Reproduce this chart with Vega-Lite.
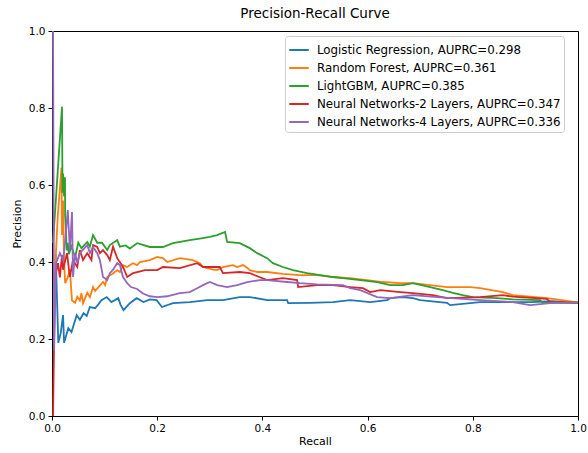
{
  "$schema": "https://vega.github.io/schema/vega-lite/v6.json",
  "autosize": {"type": "none"},
  "padding": {"left": 52, "top": 31, "right": 10, "bottom": 37},
  "width": 526,
  "height": 385,
  "background": "white",
  "title": {"text": "Precision-Recall Curve", "fontSize": 13.5, "fontWeight": "normal", "font": "DejaVu Sans", "color": "#000", "offset": 6},
  "config": {"view": {"stroke": "#000", "strokeWidth": 1}},
  "data": {"values": [
    {"model":"Logistic Regression, AUPRC=0.298","recall":0.007,"precision":0.42},
    {"model":"Logistic Regression, AUPRC=0.298","recall":0.012,"precision":0.19},
    {"model":"Logistic Regression, AUPRC=0.298","recall":0.0165,"precision":0.215},
    {"model":"Logistic Regression, AUPRC=0.298","recall":0.021,"precision":0.262},
    {"model":"Logistic Regression, AUPRC=0.298","recall":0.023,"precision":0.19},
    {"model":"Logistic Regression, AUPRC=0.298","recall":0.031,"precision":0.228},
    {"model":"Logistic Regression, AUPRC=0.298","recall":0.037,"precision":0.218},
    {"model":"Logistic Regression, AUPRC=0.298","recall":0.047,"precision":0.262},
    {"model":"Logistic Regression, AUPRC=0.298","recall":0.053,"precision":0.25},
    {"model":"Logistic Regression, AUPRC=0.298","recall":0.060,"precision":0.267},
    {"model":"Logistic Regression, AUPRC=0.298","recall":0.066,"precision":0.26},
    {"model":"Logistic Regression, AUPRC=0.298","recall":0.072,"precision":0.283},
    {"model":"Logistic Regression, AUPRC=0.298","recall":0.082,"precision":0.28},
    {"model":"Logistic Regression, AUPRC=0.298","recall":0.088,"precision":0.29},
    {"model":"Logistic Regression, AUPRC=0.298","recall":0.094,"precision":0.301},
    {"model":"Logistic Regression, AUPRC=0.298","recall":0.104,"precision":0.309},
    {"model":"Logistic Regression, AUPRC=0.298","recall":0.113,"precision":0.296},
    {"model":"Logistic Regression, AUPRC=0.298","recall":0.126,"precision":0.306},
    {"model":"Logistic Regression, AUPRC=0.298","recall":0.130,"precision":0.29},
    {"model":"Logistic Regression, AUPRC=0.298","recall":0.136,"precision":0.275},
    {"model":"Logistic Regression, AUPRC=0.298","recall":0.148,"precision":0.293},
    {"model":"Logistic Regression, AUPRC=0.298","recall":0.161,"precision":0.306},
    {"model":"Logistic Regression, AUPRC=0.298","recall":0.174,"precision":0.296},
    {"model":"Logistic Regression, AUPRC=0.298","recall":0.186,"precision":0.303},
    {"model":"Logistic Regression, AUPRC=0.298","recall":0.199,"precision":0.301},
    {"model":"Logistic Regression, AUPRC=0.298","recall":0.209,"precision":0.283},
    {"model":"Logistic Regression, AUPRC=0.298","recall":0.230,"precision":0.293},
    {"model":"Logistic Regression, AUPRC=0.298","recall":0.262,"precision":0.296},
    {"model":"Logistic Regression, AUPRC=0.298","recall":0.295,"precision":0.301},
    {"model":"Logistic Regression, AUPRC=0.298","recall":0.325,"precision":0.301},
    {"model":"Logistic Regression, AUPRC=0.298","recall":0.357,"precision":0.309},
    {"model":"Logistic Regression, AUPRC=0.298","recall":0.376,"precision":0.309},
    {"model":"Logistic Regression, AUPRC=0.298","recall":0.409,"precision":0.301},
    {"model":"Logistic Regression, AUPRC=0.298","recall":0.447,"precision":0.301},
    {"model":"Logistic Regression, AUPRC=0.298","recall":0.449,"precision":0.293},
    {"model":"Logistic Regression, AUPRC=0.298","recall":0.490,"precision":0.294},
    {"model":"Logistic Regression, AUPRC=0.298","recall":0.534,"precision":0.296},
    {"model":"Logistic Regression, AUPRC=0.298","recall":0.567,"precision":0.301},
    {"model":"Logistic Regression, AUPRC=0.298","recall":0.605,"precision":0.296},
    {"model":"Logistic Regression, AUPRC=0.298","recall":0.637,"precision":0.301},
    {"model":"Logistic Regression, AUPRC=0.298","recall":0.643,"precision":0.306},
    {"model":"Logistic Regression, AUPRC=0.298","recall":0.667,"precision":0.309},
    {"model":"Logistic Regression, AUPRC=0.298","recall":0.686,"precision":0.306},
    {"model":"Logistic Regression, AUPRC=0.298","recall":0.700,"precision":0.301},
    {"model":"Logistic Regression, AUPRC=0.298","recall":0.751,"precision":0.294},
    {"model":"Logistic Regression, AUPRC=0.298","recall":0.757,"precision":0.288},
    {"model":"Logistic Regression, AUPRC=0.298","recall":0.814,"precision":0.296},
    {"model":"Logistic Regression, AUPRC=0.298","recall":0.876,"precision":0.296},
    {"model":"Logistic Regression, AUPRC=0.298","recall":0.909,"precision":0.296},
    {"model":"Logistic Regression, AUPRC=0.298","recall":0.950,"precision":0.298},
    {"model":"Logistic Regression, AUPRC=0.298","recall":1.0,"precision":0.294},

    {"model":"Random Forest, AUPRC=0.361","recall":0.004,"precision":0.33},
    {"model":"Random Forest, AUPRC=0.361","recall":0.011,"precision":0.52},
    {"model":"Random Forest, AUPRC=0.361","recall":0.018,"precision":0.645},
    {"model":"Random Forest, AUPRC=0.361","recall":0.019,"precision":0.47},
    {"model":"Random Forest, AUPRC=0.361","recall":0.021,"precision":0.56},
    {"model":"Random Forest, AUPRC=0.361","recall":0.023,"precision":0.40},
    {"model":"Random Forest, AUPRC=0.361","recall":0.025,"precision":0.345},
    {"model":"Random Forest, AUPRC=0.361","recall":0.030,"precision":0.36},
    {"model":"Random Forest, AUPRC=0.361","recall":0.034,"precision":0.38},
    {"model":"Random Forest, AUPRC=0.361","recall":0.038,"precision":0.30},
    {"model":"Random Forest, AUPRC=0.361","recall":0.044,"precision":0.294},
    {"model":"Random Forest, AUPRC=0.361","recall":0.048,"precision":0.31},
    {"model":"Random Forest, AUPRC=0.361","recall":0.053,"precision":0.30},
    {"model":"Random Forest, AUPRC=0.361","recall":0.056,"precision":0.319},
    {"model":"Random Forest, AUPRC=0.361","recall":0.059,"precision":0.293},
    {"model":"Random Forest, AUPRC=0.361","recall":0.067,"precision":0.32},
    {"model":"Random Forest, AUPRC=0.361","recall":0.072,"precision":0.309},
    {"model":"Random Forest, AUPRC=0.361","recall":0.078,"precision":0.335},
    {"model":"Random Forest, AUPRC=0.361","recall":0.082,"precision":0.325},
    {"model":"Random Forest, AUPRC=0.361","recall":0.097,"precision":0.348},
    {"model":"Random Forest, AUPRC=0.361","recall":0.101,"precision":0.34},
    {"model":"Random Forest, AUPRC=0.361","recall":0.105,"precision":0.361},
    {"model":"Random Forest, AUPRC=0.361","recall":0.116,"precision":0.37},
    {"model":"Random Forest, AUPRC=0.361","recall":0.124,"precision":0.379},
    {"model":"Random Forest, AUPRC=0.361","recall":0.129,"precision":0.374},
    {"model":"Random Forest, AUPRC=0.361","recall":0.135,"precision":0.392},
    {"model":"Random Forest, AUPRC=0.361","recall":0.143,"precision":0.387},
    {"model":"Random Forest, AUPRC=0.361","recall":0.154,"precision":0.397},
    {"model":"Random Forest, AUPRC=0.361","recall":0.162,"precision":0.392},
    {"model":"Random Forest, AUPRC=0.361","recall":0.167,"precision":0.40},
    {"model":"Random Forest, AUPRC=0.361","recall":0.186,"precision":0.405},
    {"model":"Random Forest, AUPRC=0.361","recall":0.200,"precision":0.413},
    {"model":"Random Forest, AUPRC=0.361","recall":0.211,"precision":0.41},
    {"model":"Random Forest, AUPRC=0.361","recall":0.219,"precision":0.40},
    {"model":"Random Forest, AUPRC=0.361","recall":0.243,"precision":0.41},
    {"model":"Random Forest, AUPRC=0.361","recall":0.268,"precision":0.405},
    {"model":"Random Forest, AUPRC=0.361","recall":0.276,"precision":0.40},
    {"model":"Random Forest, AUPRC=0.361","recall":0.281,"precision":0.397},
    {"model":"Random Forest, AUPRC=0.361","recall":0.287,"precision":0.387},
    {"model":"Random Forest, AUPRC=0.361","recall":0.306,"precision":0.38},
    {"model":"Random Forest, AUPRC=0.361","recall":0.314,"precision":0.379},
    {"model":"Random Forest, AUPRC=0.361","recall":0.325,"precision":0.387},
    {"model":"Random Forest, AUPRC=0.361","recall":0.344,"precision":0.392},
    {"model":"Random Forest, AUPRC=0.361","recall":0.352,"precision":0.387},
    {"model":"Random Forest, AUPRC=0.361","recall":0.363,"precision":0.392},
    {"model":"Random Forest, AUPRC=0.361","recall":0.371,"precision":0.385},
    {"model":"Random Forest, AUPRC=0.361","recall":0.376,"precision":0.379},
    {"model":"Random Forest, AUPRC=0.361","recall":0.390,"precision":0.374},
    {"model":"Random Forest, AUPRC=0.361","recall":0.409,"precision":0.374},
    {"model":"Random Forest, AUPRC=0.361","recall":0.439,"precision":0.369},
    {"model":"Random Forest, AUPRC=0.361","recall":0.471,"precision":0.366},
    {"model":"Random Forest, AUPRC=0.361","recall":0.504,"precision":0.366},
    {"model":"Random Forest, AUPRC=0.361","recall":0.534,"precision":0.361},
    {"model":"Random Forest, AUPRC=0.361","recall":0.567,"precision":0.358},
    {"model":"Random Forest, AUPRC=0.361","recall":0.599,"precision":0.353},
    {"model":"Random Forest, AUPRC=0.361","recall":0.629,"precision":0.348},
    {"model":"Random Forest, AUPRC=0.361","recall":0.662,"precision":0.345},
    {"model":"Random Forest, AUPRC=0.361","recall":0.686,"precision":0.345},
    {"model":"Random Forest, AUPRC=0.361","recall":0.751,"precision":0.335},
    {"model":"Random Forest, AUPRC=0.361","recall":0.795,"precision":0.335},
    {"model":"Random Forest, AUPRC=0.361","recall":0.814,"precision":0.332},
    {"model":"Random Forest, AUPRC=0.361","recall":0.857,"precision":0.322},
    {"model":"Random Forest, AUPRC=0.361","recall":0.876,"precision":0.314},
    {"model":"Random Forest, AUPRC=0.361","recall":0.941,"precision":0.306},
    {"model":"Random Forest, AUPRC=0.361","recall":1.0,"precision":0.295},

    {"model":"LightGBM, AUPRC=0.385","recall":0.002,"precision":0.45},
    {"model":"LightGBM, AUPRC=0.385","recall":0.019,"precision":0.803},
    {"model":"LightGBM, AUPRC=0.385","recall":0.020,"precision":0.58},
    {"model":"LightGBM, AUPRC=0.385","recall":0.021,"precision":0.63},
    {"model":"LightGBM, AUPRC=0.385","recall":0.023,"precision":0.57},
    {"model":"LightGBM, AUPRC=0.385","recall":0.0247,"precision":0.62},
    {"model":"LightGBM, AUPRC=0.385","recall":0.025,"precision":0.52},
    {"model":"LightGBM, AUPRC=0.385","recall":0.026,"precision":0.50},
    {"model":"LightGBM, AUPRC=0.385","recall":0.028,"precision":0.43},
    {"model":"LightGBM, AUPRC=0.385","recall":0.030,"precision":0.45},
    {"model":"LightGBM, AUPRC=0.385","recall":0.032,"precision":0.42},
    {"model":"LightGBM, AUPRC=0.385","recall":0.037,"precision":0.44},
    {"model":"LightGBM, AUPRC=0.385","recall":0.044,"precision":0.413},
    {"model":"LightGBM, AUPRC=0.385","recall":0.050,"precision":0.45},
    {"model":"LightGBM, AUPRC=0.385","recall":0.056,"precision":0.436},
    {"model":"LightGBM, AUPRC=0.385","recall":0.067,"precision":0.452},
    {"model":"LightGBM, AUPRC=0.385","recall":0.072,"precision":0.44},
    {"model":"LightGBM, AUPRC=0.385","recall":0.078,"precision":0.47},
    {"model":"LightGBM, AUPRC=0.385","recall":0.086,"precision":0.45},
    {"model":"LightGBM, AUPRC=0.385","recall":0.095,"precision":0.45},
    {"model":"LightGBM, AUPRC=0.385","recall":0.105,"precision":0.431},
    {"model":"LightGBM, AUPRC=0.385","recall":0.110,"precision":0.444},
    {"model":"LightGBM, AUPRC=0.385","recall":0.124,"precision":0.457},
    {"model":"LightGBM, AUPRC=0.385","recall":0.129,"precision":0.44},
    {"model":"LightGBM, AUPRC=0.385","recall":0.140,"precision":0.443},
    {"model":"LightGBM, AUPRC=0.385","recall":0.148,"precision":0.435},
    {"model":"LightGBM, AUPRC=0.385","recall":0.162,"precision":0.449},
    {"model":"LightGBM, AUPRC=0.385","recall":0.186,"precision":0.439},
    {"model":"LightGBM, AUPRC=0.385","recall":0.211,"precision":0.439},
    {"model":"LightGBM, AUPRC=0.385","recall":0.230,"precision":0.449},
    {"model":"LightGBM, AUPRC=0.385","recall":0.262,"precision":0.457},
    {"model":"LightGBM, AUPRC=0.385","recall":0.287,"precision":0.462},
    {"model":"LightGBM, AUPRC=0.385","recall":0.300,"precision":0.465},
    {"model":"LightGBM, AUPRC=0.385","recall":0.314,"precision":0.47},
    {"model":"LightGBM, AUPRC=0.385","recall":0.329,"precision":0.478},
    {"model":"LightGBM, AUPRC=0.385","recall":0.333,"precision":0.452},
    {"model":"LightGBM, AUPRC=0.385","recall":0.357,"precision":0.449},
    {"model":"LightGBM, AUPRC=0.385","recall":0.376,"precision":0.436},
    {"model":"LightGBM, AUPRC=0.385","recall":0.390,"precision":0.423},
    {"model":"LightGBM, AUPRC=0.385","recall":0.409,"precision":0.41},
    {"model":"LightGBM, AUPRC=0.385","recall":0.420,"precision":0.397},
    {"model":"LightGBM, AUPRC=0.385","recall":0.439,"precision":0.387},
    {"model":"LightGBM, AUPRC=0.385","recall":0.458,"precision":0.379},
    {"model":"LightGBM, AUPRC=0.385","recall":0.485,"precision":0.371},
    {"model":"LightGBM, AUPRC=0.385","recall":0.510,"precision":0.366},
    {"model":"LightGBM, AUPRC=0.385","recall":0.534,"precision":0.361},
    {"model":"LightGBM, AUPRC=0.385","recall":0.553,"precision":0.358},
    {"model":"LightGBM, AUPRC=0.385","recall":0.586,"precision":0.353},
    {"model":"LightGBM, AUPRC=0.385","recall":0.618,"precision":0.348},
    {"model":"LightGBM, AUPRC=0.385","recall":0.643,"precision":0.34},
    {"model":"LightGBM, AUPRC=0.385","recall":0.667,"precision":0.34},
    {"model":"LightGBM, AUPRC=0.385","recall":0.686,"precision":0.345},
    {"model":"LightGBM, AUPRC=0.385","recall":0.719,"precision":0.335},
    {"model":"LightGBM, AUPRC=0.385","recall":0.743,"precision":0.327},
    {"model":"LightGBM, AUPRC=0.385","recall":0.762,"precision":0.32},
    {"model":"LightGBM, AUPRC=0.385","recall":0.781,"precision":0.314},
    {"model":"LightGBM, AUPRC=0.385","recall":0.800,"precision":0.309},
    {"model":"LightGBM, AUPRC=0.385","recall":0.846,"precision":0.306},
    {"model":"LightGBM, AUPRC=0.385","recall":0.876,"precision":0.303},
    {"model":"LightGBM, AUPRC=0.385","recall":0.928,"precision":0.301},
    {"model":"LightGBM, AUPRC=0.385","recall":0.933,"precision":0.294},
    {"model":"LightGBM, AUPRC=0.385","recall":1.0,"precision":0.295},

    {"model":"Neural Networks-2 Layers, AUPRC=0.347","recall":0.002,"precision":0.0},
    {"model":"Neural Networks-2 Layers, AUPRC=0.347","recall":0.004,"precision":0.20},
    {"model":"Neural Networks-2 Layers, AUPRC=0.347","recall":0.006,"precision":0.36},
    {"model":"Neural Networks-2 Layers, AUPRC=0.347","recall":0.0114,"precision":0.397},
    {"model":"Neural Networks-2 Layers, AUPRC=0.347","recall":0.015,"precision":0.36},
    {"model":"Neural Networks-2 Layers, AUPRC=0.347","recall":0.019,"precision":0.418},
    {"model":"Neural Networks-2 Layers, AUPRC=0.347","recall":0.021,"precision":0.38},
    {"model":"Neural Networks-2 Layers, AUPRC=0.347","recall":0.0285,"precision":0.423},
    {"model":"Neural Networks-2 Layers, AUPRC=0.347","recall":0.034,"precision":0.361},
    {"model":"Neural Networks-2 Layers, AUPRC=0.347","recall":0.040,"precision":0.405},
    {"model":"Neural Networks-2 Layers, AUPRC=0.347","recall":0.048,"precision":0.387},
    {"model":"Neural Networks-2 Layers, AUPRC=0.347","recall":0.053,"precision":0.431},
    {"model":"Neural Networks-2 Layers, AUPRC=0.347","recall":0.059,"precision":0.405},
    {"model":"Neural Networks-2 Layers, AUPRC=0.347","recall":0.067,"precision":0.423},
    {"model":"Neural Networks-2 Layers, AUPRC=0.347","recall":0.075,"precision":0.405},
    {"model":"Neural Networks-2 Layers, AUPRC=0.347","recall":0.078,"precision":0.444},
    {"model":"Neural Networks-2 Layers, AUPRC=0.347","recall":0.086,"precision":0.439},
    {"model":"Neural Networks-2 Layers, AUPRC=0.347","recall":0.091,"precision":0.423},
    {"model":"Neural Networks-2 Layers, AUPRC=0.347","recall":0.097,"precision":0.431},
    {"model":"Neural Networks-2 Layers, AUPRC=0.347","recall":0.105,"precision":0.418},
    {"model":"Neural Networks-2 Layers, AUPRC=0.347","recall":0.110,"precision":0.405},
    {"model":"Neural Networks-2 Layers, AUPRC=0.347","recall":0.116,"precision":0.44},
    {"model":"Neural Networks-2 Layers, AUPRC=0.347","recall":0.124,"precision":0.41},
    {"model":"Neural Networks-2 Layers, AUPRC=0.347","recall":0.135,"precision":0.387},
    {"model":"Neural Networks-2 Layers, AUPRC=0.347","recall":0.143,"precision":0.361},
    {"model":"Neural Networks-2 Layers, AUPRC=0.347","recall":0.154,"precision":0.371},
    {"model":"Neural Networks-2 Layers, AUPRC=0.347","recall":0.162,"precision":0.374},
    {"model":"Neural Networks-2 Layers, AUPRC=0.347","recall":0.177,"precision":0.379},
    {"model":"Neural Networks-2 Layers, AUPRC=0.347","recall":0.200,"precision":0.379},
    {"model":"Neural Networks-2 Layers, AUPRC=0.347","recall":0.211,"precision":0.387},
    {"model":"Neural Networks-2 Layers, AUPRC=0.347","recall":0.243,"precision":0.384},
    {"model":"Neural Networks-2 Layers, AUPRC=0.347","recall":0.276,"precision":0.397},
    {"model":"Neural Networks-2 Layers, AUPRC=0.347","recall":0.287,"precision":0.387},
    {"model":"Neural Networks-2 Layers, AUPRC=0.347","recall":0.319,"precision":0.387},
    {"model":"Neural Networks-2 Layers, AUPRC=0.347","recall":0.325,"precision":0.371},
    {"model":"Neural Networks-2 Layers, AUPRC=0.347","recall":0.357,"precision":0.374},
    {"model":"Neural Networks-2 Layers, AUPRC=0.347","recall":0.376,"precision":0.371},
    {"model":"Neural Networks-2 Layers, AUPRC=0.347","recall":0.409,"precision":0.353},
    {"model":"Neural Networks-2 Layers, AUPRC=0.347","recall":0.439,"precision":0.358},
    {"model":"Neural Networks-2 Layers, AUPRC=0.347","recall":0.466,"precision":0.353},
    {"model":"Neural Networks-2 Layers, AUPRC=0.347","recall":0.468,"precision":0.335},
    {"model":"Neural Networks-2 Layers, AUPRC=0.347","recall":0.504,"precision":0.34},
    {"model":"Neural Networks-2 Layers, AUPRC=0.347","recall":0.534,"precision":0.34},
    {"model":"Neural Networks-2 Layers, AUPRC=0.347","recall":0.567,"precision":0.335},
    {"model":"Neural Networks-2 Layers, AUPRC=0.347","recall":0.591,"precision":0.332},
    {"model":"Neural Networks-2 Layers, AUPRC=0.347","recall":0.605,"precision":0.322},
    {"model":"Neural Networks-2 Layers, AUPRC=0.347","recall":0.624,"precision":0.327},
    {"model":"Neural Networks-2 Layers, AUPRC=0.347","recall":0.662,"precision":0.322},
    {"model":"Neural Networks-2 Layers, AUPRC=0.347","recall":0.686,"precision":0.319},
    {"model":"Neural Networks-2 Layers, AUPRC=0.347","recall":0.724,"precision":0.314},
    {"model":"Neural Networks-2 Layers, AUPRC=0.347","recall":0.751,"precision":0.306},
    {"model":"Neural Networks-2 Layers, AUPRC=0.347","recall":0.814,"precision":0.309},
    {"model":"Neural Networks-2 Layers, AUPRC=0.347","recall":0.857,"precision":0.314},
    {"model":"Neural Networks-2 Layers, AUPRC=0.347","recall":0.876,"precision":0.31},
    {"model":"Neural Networks-2 Layers, AUPRC=0.347","recall":0.941,"precision":0.304},
    {"model":"Neural Networks-2 Layers, AUPRC=0.347","recall":0.947,"precision":0.296},
    {"model":"Neural Networks-2 Layers, AUPRC=0.347","recall":1.0,"precision":0.294},

    {"model":"Neural Networks-4 Layers, AUPRC=0.336","recall":0.0,"precision":1.0},
    {"model":"Neural Networks-4 Layers, AUPRC=0.336","recall":0.002,"precision":1.0},
    {"model":"Neural Networks-4 Layers, AUPRC=0.336","recall":0.004,"precision":0.17},
    {"model":"Neural Networks-4 Layers, AUPRC=0.336","recall":0.0076,"precision":0.397},
    {"model":"Neural Networks-4 Layers, AUPRC=0.336","recall":0.015,"precision":0.423},
    {"model":"Neural Networks-4 Layers, AUPRC=0.336","recall":0.021,"precision":0.405},
    {"model":"Neural Networks-4 Layers, AUPRC=0.336","recall":0.0247,"precision":0.449},
    {"model":"Neural Networks-4 Layers, AUPRC=0.336","recall":0.030,"precision":0.535},
    {"model":"Neural Networks-4 Layers, AUPRC=0.336","recall":0.034,"precision":0.43},
    {"model":"Neural Networks-4 Layers, AUPRC=0.336","recall":0.038,"precision":0.53},
    {"model":"Neural Networks-4 Layers, AUPRC=0.336","recall":0.040,"precision":0.361},
    {"model":"Neural Networks-4 Layers, AUPRC=0.336","recall":0.044,"precision":0.423},
    {"model":"Neural Networks-4 Layers, AUPRC=0.336","recall":0.048,"precision":0.397},
    {"model":"Neural Networks-4 Layers, AUPRC=0.336","recall":0.053,"precision":0.423},
    {"model":"Neural Networks-4 Layers, AUPRC=0.336","recall":0.067,"precision":0.444},
    {"model":"Neural Networks-4 Layers, AUPRC=0.336","recall":0.072,"precision":0.423},
    {"model":"Neural Networks-4 Layers, AUPRC=0.336","recall":0.078,"precision":0.439},
    {"model":"Neural Networks-4 Layers, AUPRC=0.336","recall":0.086,"precision":0.423},
    {"model":"Neural Networks-4 Layers, AUPRC=0.336","recall":0.091,"precision":0.405},
    {"model":"Neural Networks-4 Layers, AUPRC=0.336","recall":0.097,"precision":0.361},
    {"model":"Neural Networks-4 Layers, AUPRC=0.336","recall":0.105,"precision":0.353},
    {"model":"Neural Networks-4 Layers, AUPRC=0.336","recall":0.110,"precision":0.371},
    {"model":"Neural Networks-4 Layers, AUPRC=0.336","recall":0.116,"precision":0.38},
    {"model":"Neural Networks-4 Layers, AUPRC=0.336","recall":0.124,"precision":0.397},
    {"model":"Neural Networks-4 Layers, AUPRC=0.336","recall":0.129,"precision":0.392},
    {"model":"Neural Networks-4 Layers, AUPRC=0.336","recall":0.135,"precision":0.361},
    {"model":"Neural Networks-4 Layers, AUPRC=0.336","recall":0.143,"precision":0.345},
    {"model":"Neural Networks-4 Layers, AUPRC=0.336","recall":0.150,"precision":0.335},
    {"model":"Neural Networks-4 Layers, AUPRC=0.336","recall":0.162,"precision":0.33},
    {"model":"Neural Networks-4 Layers, AUPRC=0.336","recall":0.173,"precision":0.318},
    {"model":"Neural Networks-4 Layers, AUPRC=0.336","recall":0.186,"precision":0.311},
    {"model":"Neural Networks-4 Layers, AUPRC=0.336","recall":0.200,"precision":0.309},
    {"model":"Neural Networks-4 Layers, AUPRC=0.336","recall":0.219,"precision":0.311},
    {"model":"Neural Networks-4 Layers, AUPRC=0.336","recall":0.243,"precision":0.319},
    {"model":"Neural Networks-4 Layers, AUPRC=0.336","recall":0.262,"precision":0.322},
    {"model":"Neural Networks-4 Layers, AUPRC=0.336","recall":0.276,"precision":0.332},
    {"model":"Neural Networks-4 Layers, AUPRC=0.336","recall":0.287,"precision":0.34},
    {"model":"Neural Networks-4 Layers, AUPRC=0.336","recall":0.300,"precision":0.348},
    {"model":"Neural Networks-4 Layers, AUPRC=0.336","recall":0.314,"precision":0.34},
    {"model":"Neural Networks-4 Layers, AUPRC=0.336","recall":0.333,"precision":0.335},
    {"model":"Neural Networks-4 Layers, AUPRC=0.336","recall":0.352,"precision":0.34},
    {"model":"Neural Networks-4 Layers, AUPRC=0.336","recall":0.371,"precision":0.348},
    {"model":"Neural Networks-4 Layers, AUPRC=0.336","recall":0.395,"precision":0.353},
    {"model":"Neural Networks-4 Layers, AUPRC=0.336","recall":0.409,"precision":0.353},
    {"model":"Neural Networks-4 Layers, AUPRC=0.336","recall":0.447,"precision":0.348},
    {"model":"Neural Networks-4 Layers, AUPRC=0.336","recall":0.471,"precision":0.345},
    {"model":"Neural Networks-4 Layers, AUPRC=0.336","recall":0.504,"precision":0.342},
    {"model":"Neural Networks-4 Layers, AUPRC=0.336","recall":0.553,"precision":0.34},
    {"model":"Neural Networks-4 Layers, AUPRC=0.336","recall":0.567,"precision":0.332},
    {"model":"Neural Networks-4 Layers, AUPRC=0.336","recall":0.586,"precision":0.327},
    {"model":"Neural Networks-4 Layers, AUPRC=0.336","recall":0.600,"precision":0.319},
    {"model":"Neural Networks-4 Layers, AUPRC=0.336","recall":0.618,"precision":0.309},
    {"model":"Neural Networks-4 Layers, AUPRC=0.336","recall":0.643,"precision":0.306},
    {"model":"Neural Networks-4 Layers, AUPRC=0.336","recall":0.686,"precision":0.314},
    {"model":"Neural Networks-4 Layers, AUPRC=0.336","recall":0.720,"precision":0.31},
    {"model":"Neural Networks-4 Layers, AUPRC=0.336","recall":0.814,"precision":0.301},
    {"model":"Neural Networks-4 Layers, AUPRC=0.336","recall":0.876,"precision":0.296},
    {"model":"Neural Networks-4 Layers, AUPRC=0.336","recall":0.909,"precision":0.288},
    {"model":"Neural Networks-4 Layers, AUPRC=0.336","recall":0.952,"precision":0.294},
    {"model":"Neural Networks-4 Layers, AUPRC=0.336","recall":1.0,"precision":0.294}
  ]},
  "mark": {"type": "line", "strokeWidth": 1.8, "clip": true},
  "encoding": {
    "x": {"field": "recall", "type": "quantitative",
      "scale": {"domain": [0, 1], "nice": false, "zero": false},
      "axis": {"title": "Recall", "values": [0, 0.2, 0.4, 0.6, 0.8, 1.0], "format": ".1f", "grid": false,
        "labelFont": "DejaVu Sans", "labelFontSize": 10.5, "labelColor": "#000", "labelFlush": false, "labelOverlap": false,
        "titleFont": "DejaVu Sans", "titleFontSize": 11, "titleFontWeight": "normal", "titleColor": "#000", "titlePadding": 2,
        "tickColor": "#000", "tickSize": 4, "labelPadding": 3, "domainColor": "#000"}},
    "y": {"field": "precision", "type": "quantitative",
      "scale": {"domain": [0, 1], "nice": false, "zero": false},
      "axis": {"title": "Precision", "values": [0, 0.2, 0.4, 0.6, 0.8, 1.0], "format": ".1f", "grid": false,
        "labelFont": "DejaVu Sans", "labelFontSize": 10.5, "labelColor": "#000", "labelFlush": false, "labelOverlap": false,
        "titleFont": "DejaVu Sans", "titleFontSize": 11, "titleFontWeight": "normal", "titleColor": "#000", "titlePadding": 6,
        "tickColor": "#000", "tickSize": 4, "labelPadding": 3, "domainColor": "#000"}},
    "color": {"field": "model", "type": "nominal",
      "scale": {"domain": ["Logistic Regression, AUPRC=0.298", "Random Forest, AUPRC=0.361", "LightGBM, AUPRC=0.385", "Neural Networks-2 Layers, AUPRC=0.347", "Neural Networks-4 Layers, AUPRC=0.336"],
        "range": ["#1f77b4", "#ff7f0e", "#2ca02c", "#d62728", "#9467bd"]},
      "legend": {"title": null, "orient": "none", "legendX": 233, "legendY": 5,
        "symbolType": "stroke", "symbolSize": 380, "symbolStrokeWidth": 2,
        "labelFont": "DejaVu Sans", "labelFontSize": 11.8, "labelColor": "#000", "labelLimit": 400, "labelOffset": 7,
        "padding": 3, "rowPadding": 0, "strokeColor": "#cccccc", "fillColor": "white", "cornerRadius": 3}},
    "order": {"value": null}
  }
}
